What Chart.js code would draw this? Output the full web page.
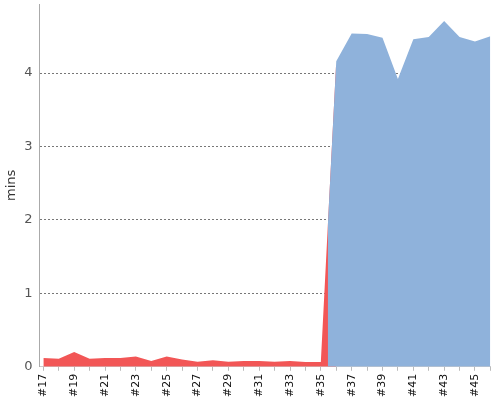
<!DOCTYPE html>
<html>
<head>
<meta charset="utf-8">
<script src="https://cdn.jsdelivr.net/npm/chart.js@4/dist/chart.umd.min.js"></script>
<style>
  html, body { margin: 0; padding: 0; background: #fff; }
  #wrap { width: 500px; height: 400px; }
</style>
</head>
<body>
<div id="wrap"><canvas id="runChart"></canvas></div>
<script>
// build numbers (#17 .. #46)
const builds = [17, 18, 19, 20, 21, 22, 23, 24, 25, 26, 27, 28, 29, 30, 31, 32, 33, 34, 35, 36,
  37, 38, 39, 40, 41, 42, 43, 44, 45, 46];
// duration in minutes for each build
const minutes = [0.12, 0.11, 0.20, 0.11, 0.12, 0.12, 0.14, 0.08, 0.14, 0.10, 0.07, 0.09, 0.07, 0.08,
  0.08, 0.07, 0.08, 0.065, 0.065, 4.16, 4.54, 4.53, 4.48, 3.92, 4.46, 4.49, 4.71, 4.49, 4.43, 4.50];
// colour switches part way between #35 and #36
const switchAt = 35.45;
const switchValue = 1.91;
const yTicks = [0, 1, 2, 3, 4];

const fastPts = [];
const slowPts = [{ x: switchAt, y: switchValue }];
builds.forEach((b, i) => {
  if (b <= 36) fastPts.push({ x: b, y: minutes[i] });
  if (b >= 36) slowPts.push({ x: b, y: minutes[i] });
});

// drop the edge padding chart.js reserves for the outer tick labels
const noEdgePad = axis => {
  axis.paddingTop = 0;
  axis.paddingBottom = 0;
  axis.paddingLeft = 0;
  axis.paddingRight = 0;
};

const ctx = document.getElementById('runChart').getContext('2d');
new Chart(ctx, {
  type: 'line',
  data: {
    datasets: [
      {
        data: slowPts,
        backgroundColor: '#8fb2db',
        borderWidth: 0,
        pointRadius: 0,
        fill: 'origin',
        tension: 0
      },
      {
        data: fastPts,
        backgroundColor: '#f25656',
        borderWidth: 0,
        pointRadius: 0,
        fill: 'origin',
        tension: 0
      }
    ]
  },
  options: {
    responsive: true,
    maintainAspectRatio: false,
    animation: false,
    layout: { padding: { top: 4, right: 9.6, bottom: 0, left: 0 } },
    plugins: { legend: { display: false }, tooltip: { enabled: false } },
    scales: {
      x: {
        type: 'linear',
        min: 16.75,
        max: 46,
        afterBuildTicks: axis => { axis.ticks = builds.map(v => ({ value: v })); },
        afterFit: noEdgePad,
        grid: { drawOnChartArea: false, drawTicks: true, tickLength: 4, color: '#bbb' },
        border: { color: '#ccc' },
        ticks: {
          autoSkip: false,
          maxRotation: 90,
          minRotation: 90,
          padding: 3,
          color: '#111',
          font: { family: 'DejaVu Sans', size: 11 },
          callback: v => (v % 2 === 1 ? '#' + v : '')
        }
      },
      y: {
        min: 0,
        max: 4.94,
        afterBuildTicks: axis => { axis.ticks = yTicks.map(v => ({ value: v })); },
        afterFit: axis => { noEdgePad(axis); axis.width = 39.5; },
        grid: {
          drawTicks: false,
          color: c => (c.tick && c.tick.value === 0 ? 'rgba(0,0,0,0)' : '#777')
        },
        border: { color: '#aaa', dash: [2, 2] },
        ticks: {
          padding: 7,
          color: '#555',
          font: { family: 'DejaVu Sans', size: 13 }
        },
        title: {
          display: true,
          text: 'mins',
          color: '#333',
          font: { family: 'DejaVu Sans', size: 13 },
          padding: { top: 4, bottom: 0 }
        }
      }
    }
  }
});
</script>
</body>
</html>
